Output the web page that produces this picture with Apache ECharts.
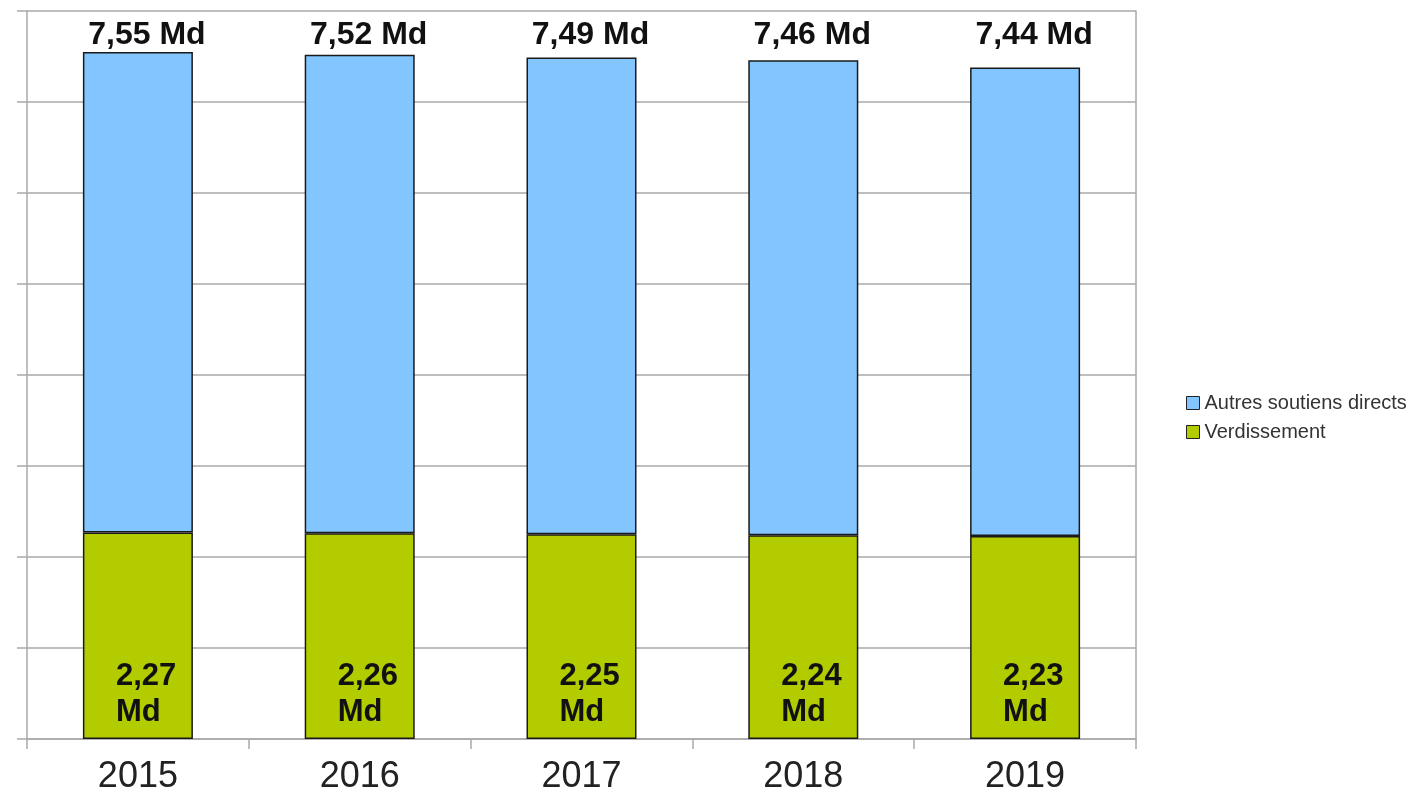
<!DOCTYPE html>
<html>
<head>
    <meta charset="utf-8">
    <title>Soutiens directs</title>
    <script src="https://cdnjs.cloudflare.com/ajax/libs/echarts/6.0.0/echarts.min.js"></script>
    <style>
        html, body { margin: 0; padding: 0; background: #fff; }
        #chart { width: 1418px; height: 796px; }
    </style>
</head>
<body>
    <div id="chart"></div>
    <script>
        // données (en milliards)
        var annees = ['2015', '2016', '2017', '2018', '2019'];
        var verdissement = [2.27, 2.26, 2.25, 2.24, 2.23];
        var autresSoutiens = [5.28, 5.26, 5.24, 5.22, 5.15];
        var totaux = [7.55, 7.52, 7.49, 7.46, 7.44];
        var axeMax = 8;

        var police = '"Liberation Sans", Arial, sans-serif';
        var gris = '#a9a9a9';

        function md(v) {
            return v.toFixed(2).replace('.', ',');
        }

        var chart = echarts.init(document.getElementById('chart'));
        chart.setOption({
            animation: false,
            backgroundColor: '#fff',
            grid: { left: 27, right: 282, top: 11, bottom: 57 },
            legend: {
                orient: 'vertical',
                left: 1181,
                top: 388,
                icon: 'rect',
                itemWidth: 13,
                itemHeight: 13,
                itemGap: 9,
                data: ['Autres soutiens directs', 'Verdissement'],
                textStyle: { fontFamily: police, fontSize: 20, color: '#333' },
                itemStyle: { borderColor: '#222', borderWidth: 1 }
            },
            xAxis: {
                type: 'category',
                data: annees,
                axisLine: { lineStyle: { color: gris, width: 1.5 } },
                axisTick: { show: true, length: 10, interval: 0, lineStyle: { color: gris, width: 1.5 } },
                axisLabel: { fontFamily: police, fontSize: 36, color: '#222', margin: 20 }
            },
            yAxis: [{
                type: 'value',
                min: 0,
                max: axeMax,
                interval: 1,
                axisLine: { show: true, lineStyle: { color: gris, width: 1.5 } },
                axisTick: { show: true, length: 10, lineStyle: { color: gris, width: 1.5 } },
                axisLabel: { show: false },
                splitLine: { lineStyle: { color: gris, width: 1.5 } }
            }, {
                type: 'value',
                position: 'right',
                min: 0,
                max: axeMax,
                interval: 1,
                axisLine: { show: true, lineStyle: { color: gris, width: 1.5 } },
                axisTick: { show: false },
                axisLabel: { show: false },
                splitLine: { show: false }
            }],
            series: [{
                name: 'Verdissement',
                type: 'bar',
                stack: 'total',
                barWidth: 110,
                data: verdissement,
                itemStyle: { color: '#b2cc00', borderColor: '#1a1a1a', borderWidth: 1.5 },
                label: {
                    show: true,
                    position: 'insideBottom',
                    distance: 9,
                    align: 'left',
                    offset: [-22, 0],
                    fontFamily: police,
                    fontSize: 31,
                    fontWeight: 'bold',
                    lineHeight: 36,
                    color: '#111',
                    formatter: function (p) { return md(p.value) + '\nMd'; }
                }
            }, {
                name: 'Autres soutiens directs',
                type: 'bar',
                stack: 'total',
                barWidth: 110,
                data: autresSoutiens,
                itemStyle: { color: '#82c5ff', borderColor: '#1a1a1a', borderWidth: 1.5 }
            }, {
                // étiquettes des totaux, alignées en haut du graphique
                name: 'totaux',
                type: 'scatter',
                silent: true,
                symbolSize: 0,
                itemStyle: { opacity: 1 },
                data: annees.map(function () { return axeMax; }),
                label: {
                    show: true,
                    position: 'bottom',
                    distance: 8,
                    offset: [9, 0],
                    fontFamily: police,
                    fontSize: 32,
                    fontWeight: 'bold',
                    color: '#111',
                    formatter: function (p) { return md(totaux[p.dataIndex]) + ' Md'; }
                }
            }]
        });
    </script>
</body>
</html>
